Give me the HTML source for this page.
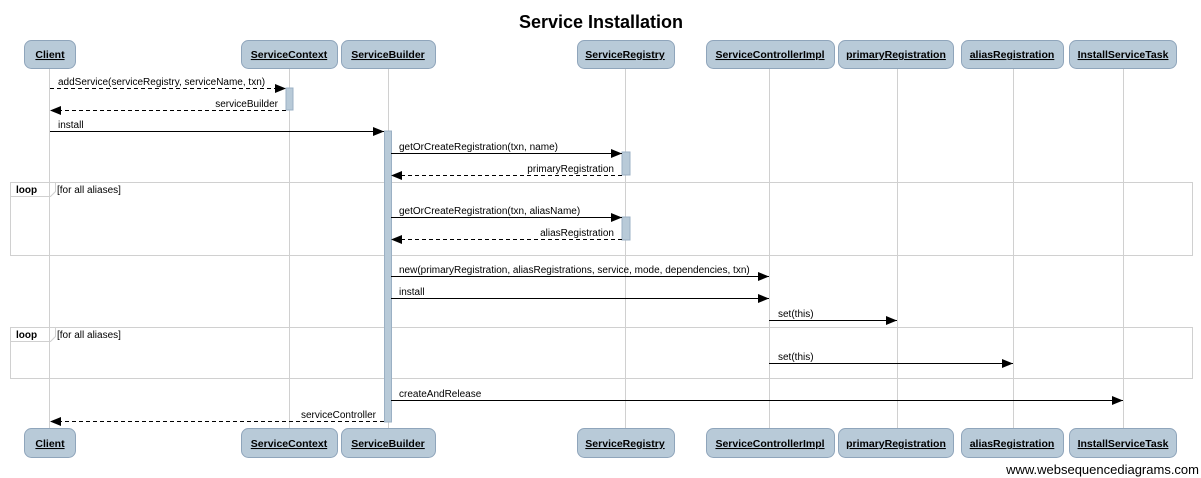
<!DOCTYPE html>
<html><head><meta charset="utf-8"><style>
html,body{margin:0;padding:0;background:#fff;}
svg{display:block;font-family:"Liberation Sans",Arial,sans-serif;}
.lb{font-size:10px;fill:#000;}
.pn{font-size:10.5px;font-weight:bold;text-decoration:underline;fill:#000;}
</style></head><body>
<svg width="1201" height="478" viewBox="0 0 1201 478" xmlns="http://www.w3.org/2000/svg">
<defs><marker id="ah" markerWidth="11" markerHeight="9" refX="11" refY="4.5" orient="auto" markerUnits="userSpaceOnUse"><path d="M0,0 L11,4.5 L0,9 z" fill="#000"/></marker></defs>
<text x="601" y="28" text-anchor="middle" font-size="18" font-weight="bold">Service Installation</text>
<g stroke="#d0d0d0" stroke-width="1">
<line x1="49.5" y1="68" x2="49.5" y2="428"/><line x1="289.5" y1="68" x2="289.5" y2="428"/>
<line x1="388.5" y1="68" x2="388.5" y2="428"/><line x1="625.5" y1="68" x2="625.5" y2="428"/>
<line x1="769.5" y1="68" x2="769.5" y2="428"/><line x1="897.5" y1="68" x2="897.5" y2="428"/>
<line x1="1013.5" y1="68" x2="1013.5" y2="428"/><line x1="1123.5" y1="68" x2="1123.5" y2="428"/>
<rect x="10.5" y="182.5" width="1182" height="73" fill="none"/>
<rect x="10.5" y="327.5" width="1182" height="51" fill="none"/>
<path d="M10.5,196.5 H50.5 L55.5,191.5 V182.5" fill="none"/>
<path d="M10.5,341.5 H50.5 L55.5,336.5 V327.5" fill="none"/>
</g>
<g class="lb"><text x="16" y="193" font-weight="bold">loop</text><text x="57" y="193">[for all aliases]</text>
<text x="16" y="338" font-weight="bold">loop</text><text x="57" y="338">[for all aliases]</text></g>
<g fill="#b8cad8" stroke="#9bb0c4">
<rect x="286" y="88" width="7" height="22"/><rect x="384.5" y="131" width="7" height="291"/>
<rect x="622" y="152" width="8" height="23"/><rect x="622" y="217" width="8" height="23"/>
</g>
<g stroke="#000" stroke-width="1" fill="none">
<line x1="50" y1="88.5" x2="286" y2="88.5" stroke-dasharray="4,3" marker-end="url(#ah)"/>
<line x1="286" y1="110.5" x2="50" y2="110.5" stroke-dasharray="4,3" marker-end="url(#ah)"/>
<line x1="50" y1="131.5" x2="384" y2="131.5" marker-end="url(#ah)"/>
<line x1="391" y1="153.5" x2="622" y2="153.5" marker-end="url(#ah)"/>
<line x1="622" y1="175.5" x2="391" y2="175.5" stroke-dasharray="4,3" marker-end="url(#ah)"/>
<line x1="391" y1="217.5" x2="622" y2="217.5" marker-end="url(#ah)"/>
<line x1="622" y1="239.5" x2="391" y2="239.5" stroke-dasharray="4,3" marker-end="url(#ah)"/>
<line x1="391" y1="276.5" x2="769" y2="276.5" marker-end="url(#ah)"/>
<line x1="391" y1="298.5" x2="769" y2="298.5" marker-end="url(#ah)"/>
<line x1="769" y1="320.5" x2="897" y2="320.5" marker-end="url(#ah)"/>
<line x1="769" y1="363.5" x2="1013" y2="363.5" marker-end="url(#ah)"/>
<line x1="391" y1="400.5" x2="1123" y2="400.5" marker-end="url(#ah)"/>
<line x1="384" y1="421.5" x2="50" y2="421.5" stroke-dasharray="4,3" marker-end="url(#ah)"/>
</g>
<g class="lb">
<text x="58" y="85">addService(serviceRegistry, serviceName, txn)</text>
<text x="278" y="107" text-anchor="end">serviceBuilder</text>
<text x="58" y="128">install</text>
<text x="399" y="150">getOrCreateRegistration(txn, name)</text>
<text x="614" y="172" text-anchor="end">primaryRegistration</text>
<text x="399" y="214">getOrCreateRegistration(txn, aliasName)</text>
<text x="614" y="236" text-anchor="end">aliasRegistration</text>
<text x="399" y="273">new(primaryRegistration, aliasRegistrations, service, mode, dependencies, txn)</text>
<text x="399" y="295">install</text>
<text x="778" y="317">set(this)</text>
<text x="778" y="360">set(this)</text>
<text x="399" y="397">createAndRelease</text>
<text x="376" y="418" text-anchor="end">serviceController</text>
</g>
<g fill="#b8cad8" stroke="#8fa5bb">
<rect x="24.5" y="40.5" width="51" height="28" rx="7"/><rect x="241.5" y="40.5" width="96" height="28" rx="7"/>
<rect x="341.5" y="40.5" width="94" height="28" rx="7"/><rect x="577.5" y="40.5" width="97" height="28" rx="7"/>
<rect x="706.5" y="40.5" width="128" height="28" rx="7"/><rect x="838.5" y="40.5" width="115" height="28" rx="7"/>
<rect x="961.5" y="40.5" width="102" height="28" rx="7"/><rect x="1069.5" y="40.5" width="107" height="28" rx="7"/>
<rect x="24.5" y="428.5" width="51" height="29" rx="7"/><rect x="241.5" y="428.5" width="96" height="29" rx="7"/>
<rect x="341.5" y="428.5" width="94" height="29" rx="7"/><rect x="577.5" y="428.5" width="97" height="29" rx="7"/>
<rect x="706.5" y="428.5" width="128" height="29" rx="7"/><rect x="838.5" y="428.5" width="115" height="29" rx="7"/>
<rect x="961.5" y="428.5" width="102" height="29" rx="7"/><rect x="1069.5" y="428.5" width="107" height="29" rx="7"/>
</g>
<g class="pn" text-anchor="middle">
<text x="50" y="58">Client</text><text x="289" y="58">ServiceContext</text><text x="388" y="58">ServiceBuilder</text>
<text x="625" y="58">ServiceRegistry</text><text x="770" y="58">ServiceControllerImpl</text><text x="896" y="58">primaryRegistration</text>
<text x="1012" y="58">aliasRegistration</text><text x="1123" y="58">InstallServiceTask</text>
<text x="50" y="447">Client</text><text x="289" y="447">ServiceContext</text><text x="388" y="447">ServiceBuilder</text>
<text x="625" y="447">ServiceRegistry</text><text x="770" y="447">ServiceControllerImpl</text><text x="896" y="447">primaryRegistration</text>
<text x="1012" y="447">aliasRegistration</text><text x="1123" y="447">InstallServiceTask</text>
</g>
<text x="1199" y="474" text-anchor="end" font-size="13">www.websequencediagrams.com</text>
</svg>
</body></html>
